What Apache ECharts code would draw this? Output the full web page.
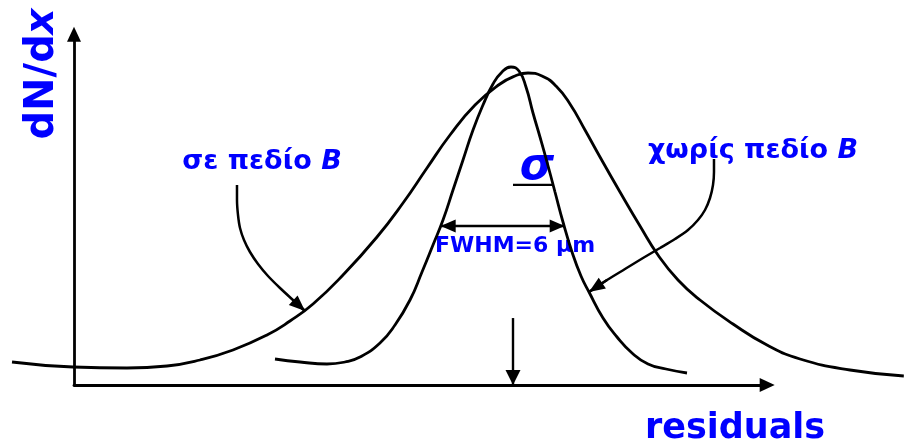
<!DOCTYPE html>
<html>
<head>
<meta charset="utf-8">
<script src="https://cdn.jsdelivr.net/npm/echarts@6/dist/echarts.min.js"></script>
<style>
  html, body { margin: 0; padding: 0; background: #fff; }
  #chart { width: 904px; height: 443px; }
</style>
</head>
<body>
<div id="chart"></div>
<script>
// Residual distributions: residual in μm, dN/dx in arbitrary units.

// Broad distribution, track fits with magnetic field (σε πεδίο B)
const withFieldResidual = [-24.241, -21.290, -18.677, -16.742, -15.145, -13.548, -11.903, -10.790, -9.677, -8.225, -6.581, -5.322, -4.161, -3.048, -1.838, -0.629, 0.097, 0.726, 1.403, 2.081, 2.758, 3.484, 4.210, 5.177, 6.145, 7.016, 7.984, 9.048, 10.645, 12.290, 13.887, 16.306, 18.91];
const withFieldDensity  = [6.425, 5.028, 4.749, 5.307, 6.983, 9.777, 13.966, 17.877, 22.626, 30.726, 41.341, 50.838, 60.615, 69.832, 78.212, 84.078, 86.313, 87.151, 86.313, 83.520, 78.492, 71.229, 63.687, 53.911, 44.413, 36.313, 29.330, 23.743, 17.039, 11.173, 7.263, 4.190, 2.514];

// Narrow distribution, no magnetic field (χωρίς πεδίο B)
const noFieldResidual = [-11.516, -10.306, -9.000, -8.129, -7.403, -6.435, -5.710, -4.984, -4.403, -3.871, -3.387, -2.903, -2.419, -1.935, -1.452, -0.968, -0.532, -0.097, 0.290, 0.629, 0.968, 1.306, 1.645, 2.032, 2.419, 2.855, 3.290, 3.677, 4.355, 5.032, 5.758, 6.532, 7.403, 8.419];
const noFieldDensity  = [7.263, 6.425, 5.866, 6.425, 7.821, 11.732, 16.760, 23.743, 31.564, 39.106, 46.089, 54.469, 62.849, 71.229, 78.212, 84.078, 87.430, 88.827, 87.709, 83.240, 75.978, 69.274, 62.291, 53.911, 45.531, 37.151, 30.447, 25.978, 18.715, 13.408, 8.939, 5.866, 4.469, 3.352];

// Full width at half maximum of the narrow distribution
const fwhmMicrons = 6;
const fwhmStart = -3.5;
const noFieldPeak = 88.827;

// σ marker and centre marker
const sigmaMarkResidual = [0, 1.9];
const sigmaMarkDensity = 55.9;
const centreArrowDensity = [18.7, 0];

// Callout pointers from the labels to the curves
const inFieldPointerResidual = [-13.355, -13.355, -13.306, -13.209, -13.016, -12.726, -12.338, -11.855, -11.274, -10.645, -10.064];
const inFieldPointerDensity  = [55.866, 51.676, 47.486, 43.855, 40.503, 37.151, 33.799, 30.447, 27.095, 23.743, 20.670];
const noFieldPointerResidual = [9.725, 9.725, 9.677, 9.532, 9.290, 8.951, 8.467, 7.839, 7.113, 6.290, 5.419, 4.548, 3.677];
const noFieldPointerDensity  = [63.128, 59.497, 55.866, 52.235, 48.883, 46.089, 43.296, 40.782, 38.268, 35.475, 32.402, 29.330, 25.978];

// Text
const yAxisTitle = 'dN/d{i|x}';
const xAxisTitle = 'residuals';
const inFieldLabel = 'σε πεδίο {i|B}';
const noFieldLabel = 'χωρίς πεδίο {i|B}';
const fwhmLabel = 'FWHM=' + fwhmMicrons + ' μm';
const sigmaLabel = 'σ';

const BLUE = '#0000ff';
const INK = '#000000';
const FONT = '"DejaVu Sans", "Noto Sans", sans-serif';

const zip = (xs, ys) => xs.map((x, i) => [x, Array.isArray(ys) ? ys[i] : ys]);

// Grid 0 carries the visible axes, grid 1 spans the whole canvas with the same
// scale so that the tails of the curves can run past the axis ends.
const PLOT = 1;

function curve(name, xs, ys, extra) {
  return Object.assign({
    name: name,
    type: 'line',
    xAxisIndex: PLOT,
    yAxisIndex: PLOT,
    data: zip(xs, ys),
    smooth: 0.5,
    symbol: 'none',
    clip: false,
    silent: true,
    lineStyle: { color: INK, width: 2.8 },
    z: 3
  }, extra || {});
}

function arrowLine(from, to, size, both) {
  return {
    silent: true,
    symbol: both ? ['triangle', 'triangle'] : ['none', 'triangle'],
    symbolSize: size,
    symbolOffset: [[0, both ? size[1] / 2 : 0], [0, size[1] / 2]],
    label: { show: false },
    emphasis: { disabled: true },
    lineStyle: { color: INK, width: 2.4, type: 'solid' },
    itemStyle: { color: INK },
    animation: false,
    data: [[{ coord: from }, { coord: to }]]
  };
}

const hiddenAxis = {
  type: 'value',
  show: false,
  axisLine: { show: false },
  axisTick: { show: false },
  axisLabel: { show: false },
  splitLine: { show: false }
};

const visibleAxisLine = {
  show: true, onZero: false,
  symbol: ['none', 'triangle'], symbolSize: [14, 15],
  lineStyle: { color: INK, width: 2.8 }
};

const n = inFieldPointerResidual.length;
const m = noFieldPointerResidual.length;

const chart = echarts.init(document.getElementById('chart'), null, { renderer: 'canvas' });

chart.setOption({
  animation: false,
  backgroundColor: '#ffffff',
  grid: [
    { left: 74, right: 136.8, top: 34.2, bottom: 58 },
    { left: 0, right: 0, top: 0, bottom: 0 }
  ],
  xAxis: [
    {
      type: 'value', gridIndex: 0, min: -21.242, max: 12.3,
      axisLine: visibleAxisLine,
      axisTick: { show: false }, axisLabel: { show: false }, splitLine: { show: false }
    },
    Object.assign({ gridIndex: 1, min: -24.822, max: 18.919 }, hiddenAxis)
  ],
  yAxis: [
    {
      type: 'value', gridIndex: 0, min: 0, max: 97.99,
      axisLine: visibleAxisLine,
      axisTick: { show: false }, axisLabel: { show: false }, splitLine: { show: false }
    },
    Object.assign({ gridIndex: 1, min: -16.201, max: 107.542 }, hiddenAxis)
  ],
  series: [
    curve('σε πεδίο B', withFieldResidual, withFieldDensity),
    curve('χωρίς πεδίο B', noFieldResidual, noFieldDensity, {
      markLine: arrowLine([fwhmStart, noFieldPeak / 2], [fwhmStart + fwhmMicrons, noFieldPeak / 2], [13, 15], true)
    }),
    // σ marker line
    curve('sigma', sigmaMarkResidual, sigmaMarkDensity, {
      smooth: false,
      lineStyle: { color: INK, width: 2.2 }
    }),
    // centre arrow onto the residual axis
    {
      type: 'line', xAxisIndex: PLOT, yAxisIndex: PLOT, silent: true, symbol: 'none', clip: false,
      data: [],
      markLine: arrowLine([0, centreArrowDensity[0]], [0, centreArrowDensity[1]], [15, 15])
    },
    // callout for the broad curve
    curve('pointer-in-field', inFieldPointerResidual, inFieldPointerDensity, {
      smooth: 0.3,
      lineStyle: { color: INK, width: 2.5 },
      markLine: arrowLine(
        [inFieldPointerResidual[n - 2], inFieldPointerDensity[n - 2]],
        [inFieldPointerResidual[n - 1], inFieldPointerDensity[n - 1]], [13, 16])
    }),
    // callout for the narrow curve
    curve('pointer-no-field', noFieldPointerResidual, noFieldPointerDensity, {
      smooth: 0.3,
      lineStyle: { color: INK, width: 2.5 },
      markLine: arrowLine(
        [noFieldPointerResidual[m - 2], noFieldPointerDensity[m - 2]],
        [noFieldPointerResidual[m - 1], noFieldPointerDensity[m - 1]], [13, 16])
    })
  ],
  graphic: [
    {
      type: 'text', x: 43, y: 74, rotation: Math.PI / 2, silent: true,
      style: {
        text: yAxisTitle, fill: BLUE, align: 'center', verticalAlign: 'middle',
        fontFamily: FONT, fontWeight: 'bold', fontSize: 40,
        rich: { i: { fontFamily: FONT, fontWeight: 'bold', fontStyle: 'italic', fontSize: 40, fill: BLUE } }
      }
    },
    {
      type: 'text', x: 735, y: 429, silent: true,
      style: {
        text: xAxisTitle, fill: BLUE, align: 'center', verticalAlign: 'middle',
        fontFamily: FONT, fontWeight: 'bold', fontSize: 35
      }
    },
    {
      type: 'text', x: 262, y: 162, silent: true,
      style: {
        text: inFieldLabel, fill: BLUE, align: 'center', verticalAlign: 'middle',
        fontFamily: FONT, fontWeight: 'bold', fontSize: 27,
        rich: { i: { fontFamily: FONT, fontWeight: 'bold', fontStyle: 'italic', fontSize: 27, fill: BLUE } }
      }
    },
    {
      type: 'text', x: 753, y: 151, silent: true,
      style: {
        text: noFieldLabel, fill: BLUE, align: 'center', verticalAlign: 'middle',
        fontFamily: FONT, fontWeight: 'bold', fontSize: 27,
        rich: { i: { fontFamily: FONT, fontWeight: 'bold', fontStyle: 'italic', fontSize: 27, fill: BLUE } }
      }
    },
    {
      type: 'text', x: 515, y: 246, silent: true,
      style: {
        text: fwhmLabel, fill: BLUE, align: 'center', verticalAlign: 'middle',
        fontFamily: FONT, fontWeight: 'bold', fontSize: 22
      }
    },
    {
      type: 'text', x: 537, y: 168, silent: true,
      style: {
        text: sigmaLabel, fill: BLUE, align: 'center', verticalAlign: 'middle',
        fontFamily: FONT, fontWeight: 'bold', fontStyle: 'italic', fontSize: 44
      }
    }
  ]
});
</script>
</body>
</html>
